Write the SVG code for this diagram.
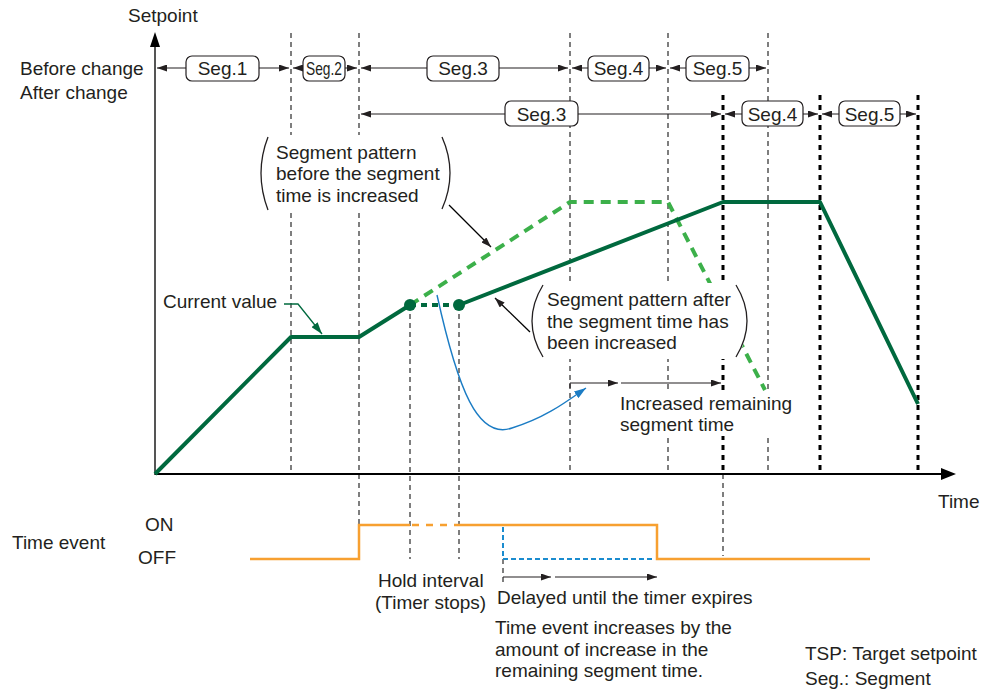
<svg xmlns="http://www.w3.org/2000/svg" width="991" height="693" viewBox="0 0 991 693">
  <defs>
    <marker id="arr" viewBox="0 0 10 7" refX="10" refY="3.5" markerWidth="10" markerHeight="7" markerUnits="userSpaceOnUse" orient="auto-start-reverse">
      <path d="M0,0 L10,3.5 L0,7 z" fill="#231f20"/>
    </marker>
    <marker id="arrBlue" viewBox="0 0 12 8" refX="12" refY="4" markerWidth="12" markerHeight="8" markerUnits="userSpaceOnUse" orient="auto">
      <path d="M0,0 L12,4 L0,8 z" fill="#1b7cc4"/>
    </marker>
    <marker id="arrGreen" viewBox="0 0 12 8" refX="12" refY="4" markerWidth="12" markerHeight="8" markerUnits="userSpaceOnUse" orient="auto">
      <path d="M0,0 L12,4 L0,8 z" fill="#00693e"/>
    </marker>
  </defs>
  <style>
    text { font-family: "Liberation Sans", Arial, sans-serif; font-size: 19px; fill: #231f20; }
    .seg { text-anchor: middle; }
    .box { fill: #fff; stroke: #231f20; stroke-width: 1.2; }
    .span { stroke: #231f20; stroke-width: 1.2; fill: none; marker-start: url(#arr); marker-end: url(#arr); }
    .one { stroke: #231f20; stroke-width: 1.2; fill: none; marker-end: url(#arr); }
    .grid { stroke: #3a3a3a; stroke-width: 1.3; stroke-dasharray: 5 4; fill: none; }
    .bound { stroke: #000; stroke-width: 3; stroke-dasharray: 5 5; fill: none; }
    .paren { stroke: #231f20; stroke-width: 1.3; fill: none; }
    .call { stroke: #000; stroke-width: 1.3; fill: none; marker-end: url(#arr); }
    .knock { fill: #fff; stroke: none; }
  </style>

  <!-- background -->
  <rect width="991" height="693" fill="#fff"/>

  <!-- segment grid lines -->
  <g id="grid">
    <line class="grid" x1="291" y1="33" x2="291" y2="474"/>
    <line class="grid" x1="359" y1="33" x2="359" y2="525"/>
    <line class="grid" x1="570" y1="33" x2="570" y2="474"/>
    <line class="grid" x1="668" y1="33" x2="668" y2="474"/>
    <line class="grid" x1="768" y1="33" x2="768" y2="474"/>
    <line class="grid" x1="410" y1="305" x2="410" y2="559"/>
    <line class="grid" x1="459" y1="305" x2="459" y2="559"/>
    <line class="grid" x1="503" y1="559" x2="503" y2="582"/>
    <line class="grid" x1="723" y1="474" x2="723" y2="556"/>
    <line class="bound" x1="723" y1="95" x2="723" y2="474"/>
    <line class="bound" x1="820" y1="95" x2="820" y2="474"/>
    <line class="bound" x1="918" y1="95" x2="918" y2="474"/>
  </g>

  <!-- axes -->
  <g id="axes">
    <line x1="155" y1="475" x2="155" y2="46" stroke="#555" stroke-width="2"/>
    <path d="M150,47 L155,32 L160,47 z" fill="#000"/>
    <line x1="155" y1="474" x2="942" y2="474" stroke="#000" stroke-width="2"/>
    <path d="M941,468 L956,474 L941,480 z" fill="#000"/>
    <text x="128" y="22">Setpoint</text>
    <text x="938" y="508">Time</text>
  </g>

  <!-- row labels -->
  <g id="row-labels">
    <text x="20" y="75">Before change</text>
    <text x="20" y="99">After change</text>
  </g>

  <!-- segments before change -->
  <g id="segments-before">
    <line class="span" x1="157" y1="68" x2="289" y2="68"/>
    <rect class="box" x="186" y="56" width="73" height="25" rx="6"/>
    <text class="seg" x="222.5" y="75">Seg.1</text>

    <line class="span" x1="293" y1="68" x2="357" y2="68"/>
    <rect class="box" x="303" y="56" width="42" height="25" rx="6"/>
    <text x="306" y="75" textLength="36" lengthAdjust="spacingAndGlyphs">Seg.2</text>

    <line class="span" x1="361" y1="68" x2="568" y2="68"/>
    <rect class="box" x="427" y="56" width="72" height="25" rx="6"/>
    <text class="seg" x="463" y="75">Seg.3</text>

    <line class="span" x1="572" y1="68" x2="666" y2="68"/>
    <rect class="box" x="588" y="56" width="61" height="25" rx="6"/>
    <text class="seg" x="618.5" y="75">Seg.4</text>

    <line class="span" x1="670" y1="68" x2="766" y2="68"/>
    <rect class="box" x="686" y="56" width="63" height="25" rx="6"/>
    <text class="seg" x="717.5" y="75">Seg.5</text>
  </g>

  <!-- segments after change -->
  <g id="segments-after">
    <line class="span" x1="361" y1="114" x2="721" y2="114"/>
    <rect class="box" x="505" y="101" width="73" height="25" rx="6"/>
    <text class="seg" x="541.5" y="121">Seg.3</text>

    <line class="span" x1="725" y1="114" x2="818" y2="114"/>
    <rect class="box" x="742" y="101" width="61" height="25" rx="6"/>
    <text class="seg" x="772.5" y="121">Seg.4</text>

    <line class="span" x1="822" y1="114" x2="916" y2="114"/>
    <rect class="box" x="839" y="101" width="61" height="25" rx="6"/>
    <text class="seg" x="869.5" y="121">Seg.5</text>
  </g>

  <!-- setpoint pattern before the increase -->
  <g id="pattern-before">
    <polyline points="410,305 570,202 668,202 765,390" fill="none" stroke="#3cb04a" stroke-width="4" stroke-dasharray="10 7"/>
  </g>

  <!-- setpoint pattern after the increase -->
  <g id="pattern-after">
    <polyline points="155,474 291,337 359,337 410,305" fill="none" stroke="#00693e" stroke-width="4" stroke-linejoin="round"/>
    <line x1="410" y1="305" x2="459" y2="305" stroke="#00693e" stroke-width="4" stroke-dasharray="6 5"/>
    <polyline points="459,305 723,202 820,202 918,404" fill="none" stroke="#00693e" stroke-width="4" stroke-linejoin="round"/>
    <circle cx="410" cy="305" r="6" fill="#00693e"/>
    <circle cx="459" cy="305" r="6" fill="#00693e"/>
  </g>

  <!-- current value label -->
  <g id="current-value">
    <text x="163" y="308">Current value</text>
    <polyline points="284,304 298,304 322,334" fill="none" stroke="#00693e" stroke-width="1.3" marker-end="url(#arrGreen)"/>
  </g>

  <!-- callout: before -->
  <g id="callout-before">
    <path class="knock" d="M268,135 Q252,173 268,212 L442,212 Q460,173 442,135 z"/>
    <path class="paren" d="M268,137 Q254,173 268,210"/>
    <path class="paren" d="M442,137 Q458,173 442,209"/>
    <text x="276" y="159">Segment pattern</text>
    <text x="276" y="180">before the segment</text>
    <text x="276" y="202">time is increased</text>
    <line class="call" x1="449" y1="205" x2="491" y2="247"/>
  </g>

  <!-- callout: after -->
  <g id="callout-after">
    <path class="knock" d="M543,283 Q519,321 543,359 L736,359 Q760,321 736,283 z"/>
    <path class="paren" d="M543,285 Q521,321 543,357"/>
    <path class="paren" d="M736,285 Q758,321 736,357"/>
    <text x="547" y="306">Segment pattern after</text>
    <text x="547" y="328">the segment time has</text>
    <text x="547" y="349">been increased</text>
    <line class="call" x1="530" y1="332" x2="495" y2="298"/>
  </g>

  <!-- increased remaining segment time -->
  <g id="remaining-time">
    <path d="M437,295 C458,390 478,440 512,428 C545,418 566,402 586,388" fill="none" stroke="#1b7cc4" stroke-width="1.4" marker-end="url(#arrBlue)"/>
    <line x1="570" y1="388" x2="570" y2="383" stroke="#231f20" stroke-width="1.2"/>
    <line class="one" x1="570" y1="383" x2="618" y2="383"/>
    <line class="one" x1="621" y1="383" x2="721" y2="383"/>
    <rect class="knock" x="617" y="392" width="178" height="44"/>
    <text x="620" y="410">Increased remaining</text>
    <text x="620" y="431">segment time</text>
  </g>

  <!-- time event -->
  <g id="time-event">
    <text x="12" y="549">Time event</text>
    <text x="145" y="531">ON</text>
    <text x="138" y="564">OFF</text>
    <polyline points="250,559 359,559 359,525 410,525" fill="none" stroke="#f7a030" stroke-width="2.5"/>
    <line x1="412" y1="525" x2="459" y2="525" stroke="#f7a030" stroke-width="2.5" stroke-dasharray="7 7"/>
    <polyline points="459,525 657,525 657,559 870,559" fill="none" stroke="#f7a030" stroke-width="2.5"/>
    <polyline points="503,527 503,559 655,559" fill="none" stroke="#1b8ccf" stroke-width="2" stroke-dasharray="5 3"/>
    <line class="one" x1="503" y1="577" x2="551" y2="577"/>
    <line class="one" x1="555" y1="577" x2="657" y2="577"/>
    <text x="378" y="587">Hold interval</text>
    <text x="375" y="609">(Timer stops)</text>
    <text x="497" y="604">Delayed until the timer expires</text>
    <text x="495" y="634">Time event increases by the</text>
    <text x="495" y="656">amount of increase in the</text>
    <text x="495" y="677">remaining segment time.</text>
  </g>

  <!-- legend -->
  <g id="legend">
    <text x="805" y="660">TSP: Target setpoint</text>
    <text x="805" y="685">Seg.: Segment</text>
  </g>
</svg>
